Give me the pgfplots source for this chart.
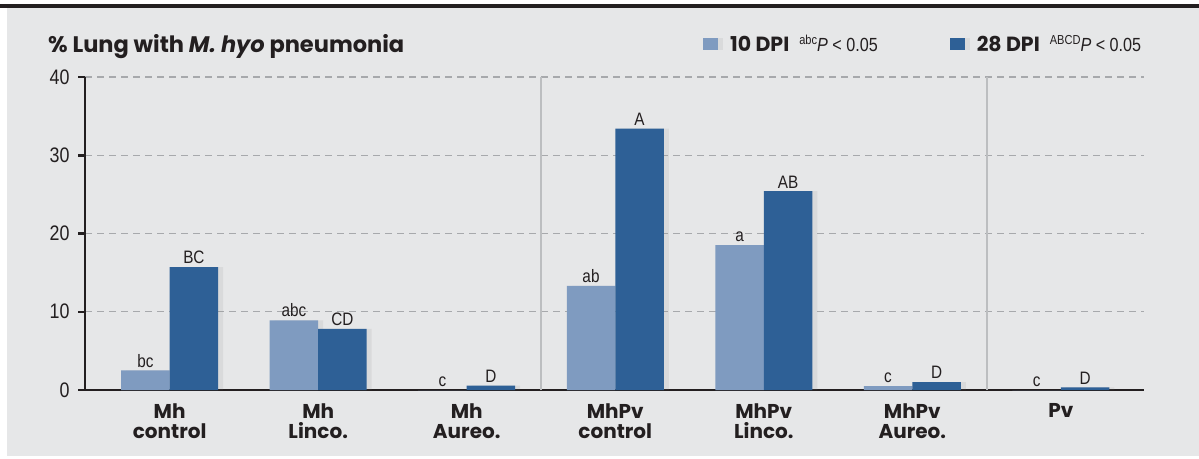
\documentclass[border=0pt]{standalone}
\usepackage{fontspec}
\usepackage{pgfplots}
\pgfplotsset{compat=1.18}
\usetikzlibrary{shadows}
\setmainfont{Liberation Sans}
\newfontfamily\narrow[FakeStretch=0.85]{Liberation Sans}
\newfontfamily\heavy{Poppins}
\definecolor{bgcol}{HTML}{E6E7E8}
\definecolor{ink}{HTML}{231F20}
\definecolor{lightbar}{HTML}{7F9BC0}
\definecolor{darkbar}{HTML}{2E6096}
\definecolor{gridcol}{HTML}{A7A9AC}
\definecolor{sepcol}{HTML}{BCBEC0}
\begin{document}
\begin{tikzpicture}
  \useasboundingbox (0pt,0pt) rectangle (1199pt,458pt);
  \fill[bgcol] (7pt,2pt) rectangle (1199pt,450pt);
  \fill[ink] (0pt,450pt) rectangle (1199pt,454pt);
  \node[anchor=base west, inner sep=0pt, text=ink,
        font=\heavy\bfseries\fontsize{22.5}{22.5}\selectfont] at (48pt,405pt)
    {\% Lung with {\itshape M. hyo} pneumonia};
  \begin{axis}[
      at={(85pt,68pt)}, anchor=south west,
      scale only axis,
      width=1059pt, height=313pt,
      ybar=0pt,
      bar width=48.5pt,
      xmin=-0.57, xmax=6.56,
      ymin=0, ymax=40,
      axis y line=left,
      axis x line*=bottom,
      axis line style={-, line width=2.5pt, draw=ink},
      xtick={0,...,6},
      xticklabels={{Mh\\control},{Mh\\Linco.},{Mh\\Aureo.},{MhPv\\control},{MhPv\\Linco.},{MhPv\\Aureo.},{Pv}},
      xticklabel style={align=center, text=ink, font=\heavy\bfseries\fontsize{20}{20.5}\selectfont, yshift=-3pt},
      x tick style={draw=none},
      ytick={0,10,20,30,40},
      tick align=outside,
      major tick length=7pt,
      y tick style={line width=2.5pt, draw=ink},
      yticklabel style={text=ink, font=\narrow\fontsize{21}{21}\selectfont, xshift=-5pt},
      /pgf/number format/assume math mode=true,
      ymajorgrids,
      grid style={gridcol, line width=1.2pt, dash pattern=on 7pt off 5pt},
      nodes near coords,
      point meta=explicit symbolic,
      nodes near coords style={text=ink, font=\narrow\fontsize{18}{18}\selectfont, anchor=south, inner sep=3pt},
      legend columns=2,
      legend style={at={(0.5807,1.105)}, anchor=west, draw=none, fill=none,
        font=\narrow\fontsize{19}{19}\selectfont, text=ink,
        /tikz/every even column/.append style={column sep=70pt},
        /tikz/every odd column/.append style={column sep=10pt}},
      legend image code/.code={\fill[#1] (0pt,-6pt) rectangle (15pt,6pt);},
    ]
    \draw[sepcol, line width=2pt] (axis cs:2.5,0) -- (axis cs:2.5,40);
    \draw[sepcol, line width=2pt] (axis cs:5.5,0) -- (axis cs:5.5,40);
    \addplot[fill=lightbar, draw=none,
      drop shadow={shadow xshift=5pt, shadow yshift=0pt, opacity=0.12}] coordinates {
      (0,2.5) [bc]
      (1,8.9) [abc]
      (2,0) [c]
      (3,13.3) [ab]
      (4,18.5) [a]
      (5,0.5) [c]
      (6,0) [c]
    };
    \addplot[fill=darkbar, draw=none,
      drop shadow={shadow xshift=5pt, shadow yshift=0pt, opacity=0.12}] coordinates {
      (0,15.7) [BC]
      (1,7.8) [CD]
      (2,0.55) [D]
      (3,33.4) [A]
      (4,25.4) [AB]
      (5,1.0) [D]
      (6,0.35) [D]
    };
    \legend{{\heavy\bfseries\fontsize{20.5}{20.5}\selectfont 10 DPI}\hspace{10pt}\raisebox{7pt}{\fontsize{13}{13}\selectfont abc}\textit{P} < 0.05,
            {\heavy\bfseries\fontsize{20.5}{20.5}\selectfont 28 DPI}\hspace{10pt}\raisebox{7pt}{\fontsize{13}{13}\selectfont ABCD}\textit{P} < 0.05}
  \end{axis}
\end{tikzpicture}
\end{document}
